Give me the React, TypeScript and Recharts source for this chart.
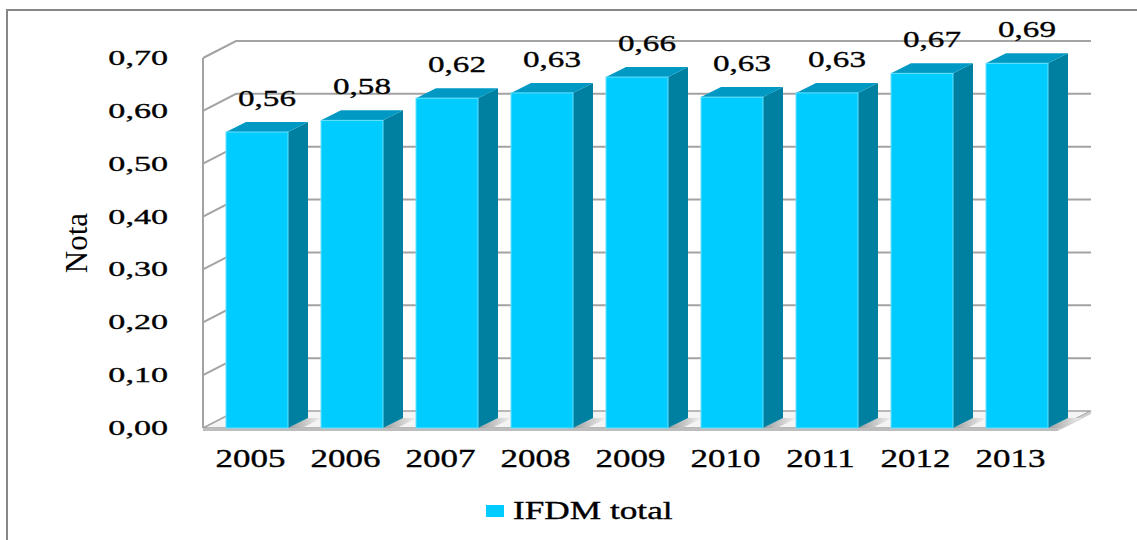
import React from 'react';
import { BarChart, Bar, XAxis, YAxis, CartesianGrid, Legend, LabelList } from 'recharts';

// IFDM total per year
const YEARS = ['2005', '2006', '2007', '2008', '2009', '2010', '2011', '2012', '2013'];
const IFDM_TOTAL = [0.56, 0.582, 0.624, 0.634, 0.664, 0.626, 0.634, 0.671, 0.69];
const Y_TICKS = [0, 0.1, 0.2, 0.3, 0.4, 0.5, 0.6, 0.7];
const SERIES_NAME = 'IFDM total';
const Y_TITLE = 'Nota';

const data = YEARS.map((year, i) => ({ year, value: IFDM_TOTAL[i] }));

const WIDTH = 1137;
const HEIGHT = 540;
const MARGIN = { top: 58, right: 79, left: 103, bottom: 32 };
const Y_AXIS_W = 100;
const X_AXIS_H = 50;
const LEGEND_H = 30;
const PLOT_BOTTOM = HEIGHT - MARGIN.bottom - X_AXIS_H - LEGEND_H;

// pseudo-3D offsets: walls and bar depth
const WALL_DX = 33;
const WALL_DY = 17;
const BAR_DX = 20;
const BAR_DY = 10;
const BAR_SHIFT = 6;

const FONT = '"Liberation Serif", "Times New Roman", serif';
const FRONT = '#00CCFF';
const TOP = '#0099C4';
const SIDE = '#0080A0';
const GRID = '#a3a3a3';

const fmt = (v: number) => v.toFixed(2).replace('.', ',');

const StretchText = ({ x, y, anchor = 'middle', size, sx, children }: any) => (
  <text
    transform={`translate(${x},${y}) scale(${sx},1)`}
    textAnchor={anchor}
    fontFamily={FONT}
    fontSize={size}
    fill="#000"
    stroke="#000"
    strokeWidth={0.35}
  >
    {children}
  </text>
);

const Floor = ({ x1, x2, y }: any) => (
  <g>
    <defs>
      <linearGradient id="shadeFloor" x1="0" y1="0" x2="1" y2="0">
        <stop offset="0%" stopColor="#9e9e9e" />
        <stop offset="100%" stopColor="#f2f2f2" />
      </linearGradient>
    </defs>
    <polygon
      points={`${x1},${y} ${x2},${y} ${x2 + WALL_DX},${y - WALL_DY} ${x1 + WALL_DX},${y - WALL_DY}`}
      fill="#f4f4f4"
      stroke={GRID}
      strokeWidth={1.5}
    />
    <polygon points={`${x1},${y} ${x2},${y} ${x2},${y + 3} ${x1},${y + 3}`} fill="#bdbdbd" />
    <polygon
      points={`${x2},${y} ${x2 + WALL_DX},${y - WALL_DY} ${x2 + WALL_DX},${y - WALL_DY + 3} ${x2},${y + 3}`}
      fill="#cfcfcf"
    />
  </g>
);

const renderGridLine = (props: any) => {
  const { x1, x2, y1, index } = props;
  if (y1 >= PLOT_BOTTOM - 1) {
    return <Floor key={`floor-${index}`} x1={x1} x2={x2} y={y1} />;
  }
  return (
    <polyline
      key={`grid-${index}`}
      points={`${x1},${y1} ${x1 + WALL_DX},${y1 - WALL_DY} ${x2 + WALL_DX},${y1 - WALL_DY}`}
      fill="none"
      stroke={GRID}
      strokeWidth={2}
    />
  );
};

const Bar3D = (props: any) => {
  const { x, y, width, height } = props;
  const fx = x + BAR_SHIFT;
  const r = fx + width;
  const b = y + height;
  return (
    <g>
      <polygon
        points={`${r},${b} ${r + BAR_DX},${b - BAR_DY} ${r + BAR_DX + 14},${b - BAR_DY} ${r + 14},${b}`}
        fill="url(#shadeFloor)"
      />
      <polygon
        points={`${r},${y} ${r + BAR_DX},${y - BAR_DY} ${r + BAR_DX},${b - BAR_DY} ${r},${b}`}
        fill={SIDE}
      />
      <polygon
        points={`${fx},${y} ${fx + BAR_DX},${y - BAR_DY} ${r + BAR_DX},${y - BAR_DY} ${r},${y}`}
        fill={TOP}
      />
      <rect x={fx} y={y} width={width} height={height} fill={FRONT} stroke="#66e0ff" strokeWidth={1} />
    </g>
  );
};

const renderValueLabel = (props: any) => {
  const { x, y, width, value } = props;
  return (
    <StretchText x={x + BAR_SHIFT + width / 2 + 10} y={y - 26} size={24} sx={1.38}>
      {fmt(value)}
    </StretchText>
  );
};

const XTick = ({ x, y, payload }: any) => (
  <StretchText x={x} y={y + 39} size={25} sx={1.4}>
    {payload.value}
  </StretchText>
);

const YTick = ({ x, y, payload }: any) => (
  <StretchText x={x - 35} y={y + 7} anchor="end" size={22} sx={1.55}>
    {fmt(payload.value)}
  </StretchText>
);

const renderYTitle = (props: any) => {
  const { viewBox } = props;
  const cx = viewBox.x - 16;
  const cy = viewBox.y + viewBox.height / 2;
  return (
    <text
      transform={`translate(${cx},${cy}) rotate(-90)`}
      textAnchor="middle"
      fontFamily={FONT}
      fontSize={31}
      fill="#000"
    >
      {Y_TITLE}
    </text>
  );
};

const renderLegend = () => (
  <div style={{ display: 'flex', alignItems: 'center', height: LEGEND_H }}>
    <span style={{ display: 'inline-block', width: 18, height: 12, background: FRONT, marginRight: 9 }} />
    <span
      style={{
        display: 'inline-block',
        fontFamily: FONT,
        fontSize: 25,
        lineHeight: `${LEGEND_H}px`,
        transform: 'scaleX(1.41)',
        transformOrigin: 'left center',
        whiteSpace: 'nowrap',
        WebkitTextStroke: '0.35px #000',
      }}
    >
      {SERIES_NAME}
    </span>
  </div>
);

export default function App() {
  return (
    <div
      style={{
        position: 'absolute',
        left: 0,
        top: 0,
        width: WIDTH,
        height: HEIGHT,
        overflow: 'hidden',
        background: '#fff',
      }}
    >
      <div
        style={{
          position: 'absolute',
          left: 6,
          top: 9,
          width: WIDTH + 40,
          height: HEIGHT + 40,
          borderTop: '2px solid #878787',
          borderLeft: '2px solid #878787',
        }}
      />
      <div style={{ position: 'absolute', left: 0, top: 0 }}>
        <BarChart width={WIDTH} height={HEIGHT} data={data} margin={MARGIN} barSize={62}>
          <CartesianGrid vertical={false} horizontal={renderGridLine} />
          <XAxis
            dataKey="year"
            axisLine={false}
            tickLine={false}
            tickSize={0}
            tickMargin={0}
            height={X_AXIS_H}
            interval={0}
            tick={<XTick />}
          />
          <YAxis
            domain={[0, 0.7]}
            ticks={Y_TICKS}
            width={Y_AXIS_W}
            tickLine={false}
            tickSize={0}
            tickMargin={0}
            axisLine={{ stroke: GRID, strokeWidth: 2 }}
            tick={<YTick />}
            label={{ content: renderYTitle }}
          />
          <Legend
            verticalAlign="bottom"
            content={renderLegend}
            wrapperStyle={{ left: 486, top: 496, width: 'auto', height: LEGEND_H }}
          />
          <Bar dataKey="value" name={SERIES_NAME} shape={<Bar3D />} isAnimationActive={false}>
            <LabelList dataKey="value" content={renderValueLabel} />
          </Bar>
        </BarChart>
      </div>
    </div>
  );
}
